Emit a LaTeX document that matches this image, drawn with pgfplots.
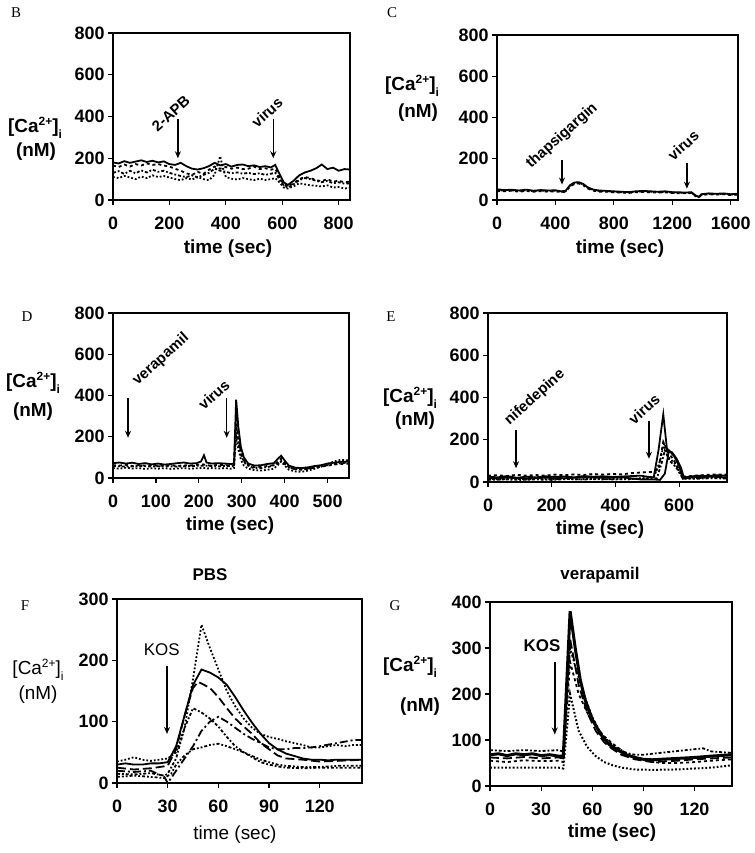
\documentclass[border=0pt]{standalone}
\usepackage{fontspec}
\setmainfont{Liberation Serif}
\newfontfamily\arial{Liberation Sans}
\usepackage{pgfplots}
\pgfplotsset{compat=1.18}
\usetikzlibrary{arrows.meta}
\pgfplotsset{
 panel/.style={scale only axis, anchor=south west, axis line style={line width=1.5pt},
  tick style={line width=1.2pt, black}, tick align=outside, major tick length=5pt,
  xtick pos=bottom, ytick pos=left, xmin=0, ymin=0, clip mode=individual, no markers,
  tick label style={font=\arial\bfseries\fontsize{18}{18}\selectfont},
  xticklabel shift=9pt,
  /pgf/number format/assume math mode=true, /pgf/number format/1000 sep={}},
}
\tikzset{arr/.style={-{Stealth[length=7pt,width=6pt]}, line width=1.5pt},
 ann/.style={font=\arial\bfseries\fontsize{15}{15}\selectfont},
 tr/.style={black, solid, line width=1.8pt}}
\newcommand{\lab}{\fontsize{19}{19}\selectfont}
\newcommand{\cai}{[Ca\raisebox{0.75ex}{\fontsize{12}{12}\selectfont 2+}]\raisebox{-0.6ex}{\fontsize{12}{12}\selectfont i}}
\begin{document}
\begin{tikzpicture}
\path[use as bounding box] (0,0) rectangle (755bp,853bp);
% ---------- B ----------
\begin{axis}[panel, at={(113bp,653bp)}, width=237bp, height=167bp, xmax=840, ymax=800,
 xtick={0,200,...,800}, ytick={0,200,...,800}]
\addplot[tr] coordinates {(0,180)(20,175)(40,186)(60,178)(80,184)(100,190)(120,182)(140,188)(160,180)(180,185)(200,172)(220,168)(240,178)(260,162)(280,150)(300,146)(320,152)(340,162)(360,178)(380,166)(400,172)(420,160)(440,168)(460,170)(480,162)(500,166)(520,158)(540,162)(560,156)(575,168)(590,125)(605,85)(620,72)(640,92)(660,118)(680,132)(700,140)(720,152)(740,170)(760,148)(780,155)(800,140)(820,148)(840,146)};
\addplot[tr, dashed] coordinates {(0,165)(20,158)(40,170)(60,160)(80,172)(100,165)(120,175)(140,168)(160,172)(180,165)(200,160)(220,150)(240,140)(260,128)(280,120)(300,135)(320,125)(340,145)(360,160)(380,150)(400,158)(420,150)(440,155)(460,148)(480,150)(500,160)(520,148)(540,152)(560,145)(575,150)(590,110)(605,75)(620,65)(640,80)(660,100)(680,110)(700,105)(720,95)(740,90)(760,100)(780,88)(800,92)(820,85)(840,88)};
\addplot[tr, dash dot] coordinates {(0,130)(20,138)(40,125)(60,140)(80,128)(100,142)(120,132)(140,145)(160,135)(180,140)(200,130)(220,122)(240,115)(260,110)(280,118)(300,108)(320,120)(340,130)(360,150)(380,140)(400,135)(420,128)(440,132)(460,126)(480,130)(500,124)(520,128)(540,120)(560,126)(575,130)(590,100)(605,70)(620,60)(640,75)(660,95)(680,105)(700,100)(720,92)(740,85)(760,92)(780,80)(800,85)(820,78)(840,80)};
\addplot[tr, dotted] coordinates {(0,110)(20,105)(40,115)(60,108)(80,100)(100,112)(120,105)(140,118)(160,110)(180,115)(200,108)(220,100)(240,95)(260,105)(280,98)(300,110)(320,100)(340,95)(360,120)(380,210)(390,150)(400,110)(420,102)(440,98)(460,105)(480,100)(500,95)(520,102)(540,96)(560,100)(575,105)(590,85)(605,60)(620,55)(640,65)(660,80)(680,75)(700,70)(720,68)(740,65)(760,70)(780,60)(800,62)(820,55)(840,58)};
\draw[arr] (axis cs:230,390) -- (axis cs:230,200);
\draw[arr] (axis cs:568,390) -- (axis cs:568,200);
\node[ann, rotate=42] at (axis cs:205,415) {2-APB};
\node[ann, rotate=42] at (axis cs:546,420) {virus};
\end{axis}
% ---------- C ----------
\begin{axis}[panel, at={(497bp,653bp)}, width=241bp, height=165bp, xmax=1650, ymax=800,
 xtick={0,400,...,1600}, ytick={0,200,...,800}]
\addplot[tr] coordinates {(0,52)(50,48)(100,50)(150,46)(200,50)(250,45)(300,48)(350,46)(400,47)(440,42)(470,45)(500,72)(530,85)(560,86)(590,78)(620,62)(660,50)(700,46)(750,44)(800,42)(850,40)(900,38)(950,42)(1000,44)(1050,42)(1100,40)(1150,42)(1200,38)(1250,37)(1300,36)(1330,38)(1360,22)(1380,15)(1400,28)(1450,32)(1500,30)(1550,32)(1600,28)(1650,30)};
\addplot[tr, dashed] coordinates {(0,44)(50,42)(100,45)(150,40)(200,44)(250,40)(300,43)(350,40)(400,42)(440,38)(470,40)(500,65)(530,78)(560,80)(590,72)(620,56)(660,45)(700,40)(750,40)(800,37)(850,36)(900,34)(950,38)(1000,39)(1050,37)(1100,36)(1150,37)(1200,34)(1250,33)(1300,32)(1330,34)(1360,18)(1380,12)(1400,24)(1450,28)(1500,26)(1550,28)(1600,24)(1650,26)};
\addplot[tr, dotted] coordinates {(0,48)(50,45)(100,47)(150,44)(200,47)(250,43)(300,46)(350,44)(400,45)(440,40)(470,43)(500,68)(530,82)(560,84)(590,75)(620,60)(660,48)(700,44)(750,42)(800,40)(850,38)(900,36)(950,40)(1000,42)(1050,40)(1100,38)(1150,40)(1200,36)(1250,35)(1300,34)(1330,36)(1360,20)(1380,14)(1400,26)(1450,30)(1500,28)(1550,30)(1600,26)(1650,28)};
\draw[arr] (axis cs:445,195) -- (axis cs:445,75);
\draw[arr] (axis cs:1300,180) -- (axis cs:1300,55);
\node[ann, rotate=42] at (axis cs:445,310) {thapsigargin};
\node[ann, rotate=42] at (axis cs:1275,265) {virus};
\end{axis}
% ---------- D ----------
\begin{axis}[panel, at={(113bp,375bp)}, width=236bp, height=165bp, xmax=550, ymax=800,
 xtick={0,100,...,500}, ytick={0,200,...,800}]
\addplot[tr] coordinates {(0,72)(15,75)(30,70)(45,74)(60,68)(75,72)(90,66)(105,70)(120,65)(135,68)(150,72)(165,75)(180,70)(195,72)(205,80)(212,110)(218,75)(230,70)(245,72)(260,70)(275,68)(282,70)(287,380)(292,250)(298,150)(305,100)(315,70)(330,60)(345,62)(360,68)(375,72)(385,95)(392,108)(400,85)(410,60)(425,50)(440,48)(455,52)(470,58)(485,62)(500,70)(515,74)(530,78)(550,80)};
\addplot[tr, dashed] coordinates {(0,62)(15,60)(30,64)(45,58)(60,62)(75,60)(90,63)(105,58)(120,60)(135,62)(150,58)(165,62)(180,60)(195,64)(210,66)(218,62)(230,60)(245,64)(260,62)(275,60)(282,62)(287,300)(292,200)(298,120)(305,85)(315,62)(330,52)(345,55)(360,58)(375,62)(385,80)(392,95)(400,75)(410,52)(425,42)(440,40)(455,45)(470,50)(485,55)(500,60)(515,65)(530,68)(550,70)};
\addplot[tr, dotted] coordinates {(0,48)(15,45)(30,50)(45,46)(60,48)(75,44)(90,47)(105,45)(120,48)(135,44)(150,46)(165,48)(180,45)(195,47)(210,50)(218,46)(230,48)(245,46)(260,48)(275,45)(282,48)(287,200)(292,140)(298,90)(305,60)(315,45)(330,38)(345,36)(360,40)(375,45)(385,65)(392,80)(400,60)(410,40)(425,32)(440,30)(455,36)(470,45)(485,55)(500,68)(515,80)(530,88)(550,85)};
\addplot[tr, dash dot] coordinates {(0,58)(30,55)(60,58)(90,56)(120,58)(150,55)(180,58)(210,60)(240,57)(270,58)(282,56)(287,260)(293,160)(300,100)(310,65)(325,50)(345,48)(365,55)(385,70)(392,82)(405,60)(420,45)(445,42)(470,52)(500,62)(530,72)(550,75)};
\draw[arr] (axis cs:35,390) -- (axis cs:35,195);
\draw[arr] (axis cs:265,390) -- (axis cs:265,195);
\node[ann, rotate=42] at (axis cs:112,575) {verapamil};
\node[ann, rotate=42] at (axis cs:235,405) {virus};
\end{axis}
% ---------- E ----------
\begin{axis}[panel, at={(488bp,371bp)}, width=239bp, height=169bp, xmax=750, ymax=800,
 xtick={0,200,400,600}, ytick={0,200,...,800}]
\addplot[tr] coordinates {(0,25)(30,22)(60,28)(90,20)(120,25)(150,22)(180,27)(210,24)(240,26)(270,22)(300,28)(330,25)(360,27)(390,24)(420,26)(450,28)(480,30)(500,25)(520,22)(535,150)(550,320)(562,150)(578,140)(592,110)(605,70)(615,20)(630,25)(660,30)(690,28)(720,32)(750,30)};
\addplot[tr] coordinates {(0,18)(60,20)(120,18)(180,20)(240,18)(300,22)(360,20)(420,22)(480,12)(520,12)(540,10)(555,40)(568,150)(585,120)(600,75)(612,15)(640,22)(700,25)(750,22)};
\addplot[tr, dashed] coordinates {(0,30)(30,32)(60,28)(90,34)(120,30)(150,33)(180,30)(210,35)(240,32)(270,36)(300,33)(330,38)(360,35)(390,38)(420,36)(450,42)(480,45)(520,48)(535,60)(550,190)(565,140)(580,110)(600,60)(615,25)(650,30)(700,35)(750,35)};
\addplot[tr, dotted] coordinates {(0,15)(40,12)(80,16)(120,12)(160,15)(200,12)(240,16)(280,12)(320,15)(360,12)(400,15)(440,12)(480,18)(520,20)(540,100)(552,180)(565,120)(585,90)(605,40)(620,15)(660,18)(700,22)(750,20)};
\addplot[tr, dash dot] coordinates {(0,10)(50,12)(100,10)(150,12)(200,10)(250,14)(300,12)(350,14)(400,12)(450,15)(500,15)(530,18)(545,90)(555,150)(570,100)(590,70)(610,20)(650,15)(700,18)(750,16)};
\draw[arr] (axis cs:88,245) -- (axis cs:88,65);
\draw[arr] (axis cs:505,290) -- (axis cs:505,110);
\node[ann, rotate=42] at (axis cs:147,400) {nifedepine};
\node[ann, rotate=42] at (axis cs:490,345) {virus};
\end{axis}
% ---------- F ----------
\begin{axis}[panel, at={(117bp,70bp)}, width=245bp, height=184bp, xmax=145, ymax=300,
 xtick={0,30,...,120}, ytick={0,100,200,300}]
\addplot[tr, dotted] coordinates {(0,35)(5,38)(10,42)(15,38)(20,36)(25,38)(30,40)(35,50)(40,90)(45,170)(50,258)(55,220)(60,185)(65,150)(70,125)(75,105)(80,90)(85,80)(90,75)(95,72)(100,68)(105,65)(110,62)(115,58)(120,58)(125,60)(130,62)(135,60)(140,62)(145,62)};
\addplot[tr] coordinates {(0,30)(5,32)(10,30)(15,30)(20,32)(25,32)(30,34)(35,60)(40,110)(45,160)(50,185)(55,180)(60,172)(65,160)(70,140)(75,118)(80,98)(85,80)(90,65)(95,55)(100,48)(105,44)(110,40)(115,38)(120,38)(125,37)(130,38)(135,38)(140,38)(145,38)};
\addplot[tr, dash pattern=on 9pt off 4pt] coordinates {(0,25)(10,22)(20,24)(30,28)(35,55)(40,110)(45,155)(48,165)(55,155)(60,140)(65,122)(70,105)(75,92)(80,80)(85,65)(90,55)(95,45)(100,40)(110,38)(120,35)(130,36)(145,38)};
\addplot[tr, dash dot] coordinates {(0,15)(10,14)(20,16)(28,12)(30,15)(35,40)(40,90)(45,122)(50,115)(55,105)(60,92)(65,75)(70,60)(75,50)(80,42)(85,34)(90,30)(95,27)(100,25)(110,24)(120,25)(130,25)(145,25)};
\addplot[tr, dash pattern=on 8pt off 3pt on 2pt off 3pt] coordinates {(0,20)(10,18)(20,20)(28,10)(30,0)(35,20)(40,40)(45,60)(50,85)(55,100)(60,108)(65,100)(70,90)(75,80)(80,72)(85,65)(90,58)(95,55)(100,55)(105,57)(110,57)(115,58)(120,60)(130,65)(140,70)(145,70)};
\addplot[tr, dash dot dot] coordinates {(0,10)(10,12)(20,10)(28,8)(32,15)(35,30)(40,45)(45,55)(50,58)(55,62)(60,64)(65,60)(70,55)(75,50)(80,44)(85,38)(90,34)(95,30)(100,28)(110,26)(120,26)(130,28)(145,28)};
\draw[arr] (axis cs:29.6,190) -- (axis cs:29.6,80);
\node[font=\arial\fontsize{17}{17}\selectfont] at (axis cs:26.5,217) {KOS};
\end{axis}
% ---------- G ----------
\begin{axis}[panel, at={(490bp,67bp)}, width=242bp, height=184bp, xmax=142, ymax=400,
 xtick={0,30,...,120}, ytick={0,100,...,400}]
\addplot[tr, line width=3pt] coordinates {(0,68)(5,70)(10,66)(15,70)(20,68)(25,70)(30,66)(35,68)(40,65)(43,65)(47,380)(50,300)(53,230)(56,185)(60,145)(65,112)(70,90)(75,78)(80,68)(85,62)(90,58)(95,57)(100,58)(110,60)(120,62)(130,65)(142,68)};
\addplot[tr, dash dot] coordinates {(0,78)(10,76)(20,78)(30,76)(40,78)(43,75)(47,300)(50,260)(55,200)(60,150)(65,115)(70,95)(75,82)(80,72)(85,68)(90,68)(100,72)(110,76)(120,80)(125,82)(130,75)(142,72)};
\addplot[tr, dashed] coordinates {(0,55)(10,52)(20,56)(30,54)(40,55)(43,52)(47,270)(52,200)(57,160)(62,130)(67,108)(72,92)(77,78)(82,66)(87,58)(92,55)(100,50)(110,50)(120,52)(130,55)(142,58)};
\addplot[tr, dotted, line width=2pt] coordinates {(0,40)(10,40)(20,40)(30,40)(40,40)(43,38)(47,200)(52,120)(57,85)(62,65)(67,52)(72,45)(77,40)(85,36)(95,35)(110,36)(120,38)(130,40)(142,45)};
\addplot[tr, dash pattern=on 9pt off 4pt] coordinates {(0,62)(10,60)(20,63)(30,60)(40,62)(43,60)(47,320)(52,220)(57,160)(62,120)(67,95)(72,80)(77,68)(85,58)(95,52)(110,55)(120,58)(130,60)(142,62)};
\draw[arr] (axis cs:38,270) -- (axis cs:38,112);
\node[font=\arial\bfseries\fontsize{17}{17}\selectfont] at (axis cs:30.5,304) {KOS};
\end{axis}
% ---------- labels ----------
\begin{scope}[every node/.style={inner sep=0pt}]
\node[font=\fontsize{15}{15}\selectfont] at (16bp,840bp) {B};
\node[font=\fontsize{15}{15}\selectfont] at (392bp,840bp) {C};
\node[font=\fontsize{15}{15}\selectfont] at (27bp,536bp) {D};
\node[font=\fontsize{15}{15}\selectfont] at (391bp,536bp) {E};
\node[font=\fontsize{15}{15}\selectfont] at (25bp,247bp) {F};
\node[font=\fontsize{15}{15}\selectfont] at (395bp,247bp) {G};
\node[font=\arial\bfseries\lab] at (35bp,725bp) {\cai};
\node[font=\arial\bfseries\lab] at (36bp,701bp) {(nM)};
\node[font=\arial\bfseries\lab] at (228bp,604bp) {time (sec)};
\node[font=\arial\bfseries\lab] at (412bp,767bp) {\cai};
\node[font=\arial\bfseries\lab] at (418bp,740bp) {(nM)};
\node[font=\arial\bfseries\lab] at (620bp,604bp) {time (sec)};
\node[font=\arial\bfseries\lab] at (33bp,470bp) {\cai};
\node[font=\arial\bfseries\lab] at (33bp,441bp) {(nM)};
\node[font=\arial\bfseries\lab] at (230bp,327bp) {time (sec)};
\node[font=\arial\bfseries\lab] at (410bp,455bp) {\cai};
\node[font=\arial\bfseries\lab] at (415bp,432bp) {(nM)};
\node[font=\arial\bfseries\lab] at (600bp,323bp) {time (sec)};
\node[font=\arial\lab] at (38bp,183bp) {\cai};
\node[font=\arial\lab] at (38bp,158bp) {(nM)};
\node[font=\arial\lab] at (235bp,18bp) {time (sec)};
\node[font=\arial\bfseries\fontsize{17}{17}\selectfont] at (210bp,278bp) {PBS};
\node[font=\arial\bfseries\lab] at (410bp,186bp) {\cai};
\node[font=\arial\bfseries\lab] at (420bp,146bp) {(nM)};
\node[font=\arial\bfseries\lab] at (612bp,20bp) {time (sec)};
\node[font=\arial\bfseries\fontsize{17}{17}\selectfont] at (600bp,278bp) {verapamil};
\end{scope}
\end{tikzpicture}
\end{document}
